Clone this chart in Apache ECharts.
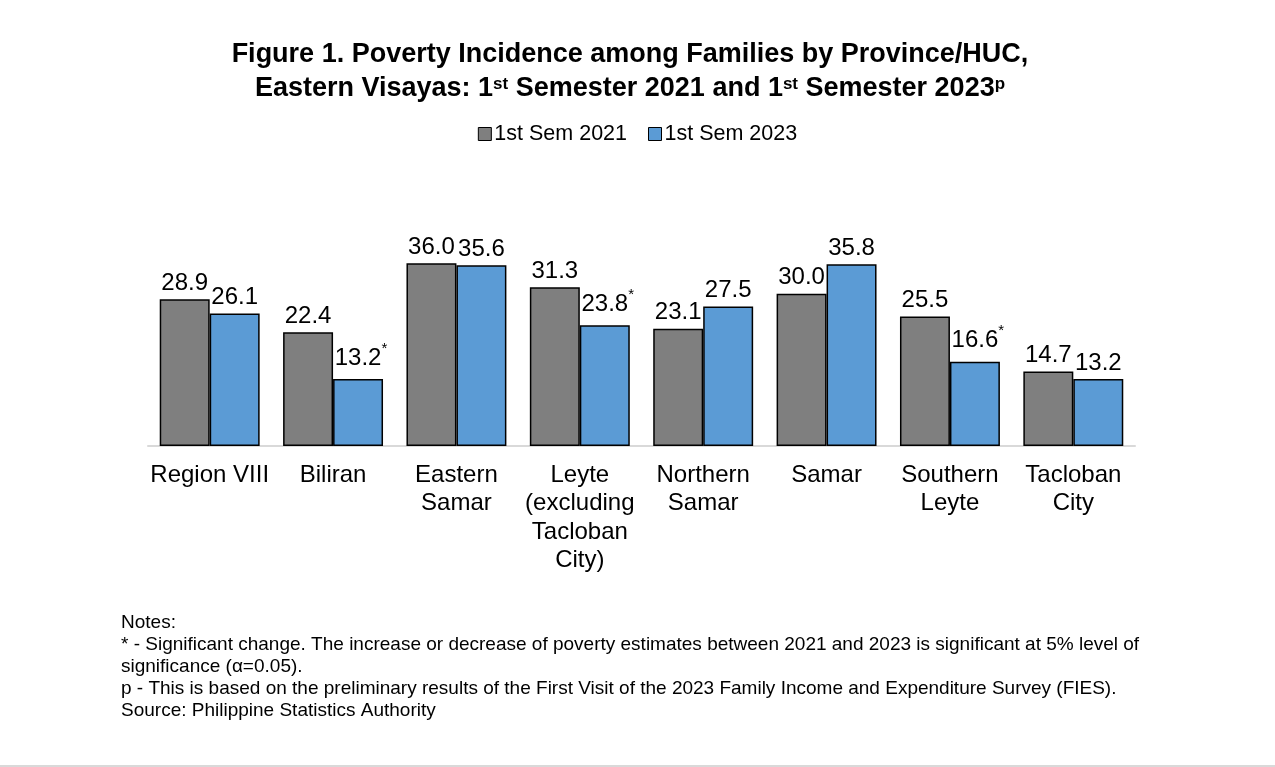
<!DOCTYPE html>
<html>
<head>
<meta charset="utf-8">
<script src="https://cdn.jsdelivr.net/npm/echarts@6/dist/echarts.min.js"></script>
<style>
html,body{margin:0;padding:0;background:#fff;}
#c{width:1275px;height:767px;}
</style>
</head>
<body>
<div id="c"></div>
<script>
const categories = ['Region VIII', 'Biliran', 'Eastern\nSamar', 'Leyte\n(excluding\nTacloban\nCity)', 'Northern\nSamar', 'Samar', 'Southern\nLeyte', 'Tacloban\nCity'];
const seriesNames = ['1st Sem 2021', '1st Sem 2023'];
const sem2021 = [28.9, 22.4, 36.0, 31.3, 23.1, 30.0, 25.5, 14.7];
const sem2023 = [26.1, 13.2, 35.6, 23.8, 27.5, 35.8, 16.6, 13.2];
const sig2023 = [false, true, false, true, false, false, true, false];
const titleText = 'Figure 1. Poverty Incidence among Families by Province/HUC,\nEastern Visayas: 1{sup|st} Semester 2021 and 1{sup|st} Semester 2023{sup|p}';
const notes = [
  'Notes:',
  '* - Significant change. The increase or decrease of poverty estimates between 2021 and 2023 is significant at 5% level of',
  'significance (\u03b1=0.05).',
  'p - This is based on the preliminary results of the First Visit of the 2023 Family Income and Expenditure Survey (FIES).',
  'Source: Philippine Statistics Authority'
];

const FONT = '"Liberation Sans", Arial, sans-serif';
const chart = echarts.init(document.getElementById('c'), null, {renderer: 'canvas'});

function makeData(vals, sig) {
  return vals.map((v, i) => ({value: v, sig: sig ? sig[i] : false}));
}

const labelRich = {
  v: {fontSize: 24, fontFamily: FONT, color: '#000'},
  s: {fontSize: 15, fontFamily: FONT, color: '#000', padding: [0, 0, 19, 0]},
  p: {fontSize: 15, fontFamily: FONT, color: 'rgba(0,0,0,0)', padding: [0, 0, 19, 0]}
};

function fmt(p) {
  const t = p.value.toFixed(1);
  if (p.data.sig) return '{p|*}{v|' + t + '}{s|*}';
  return '{v|' + t + '}';
}

const option = {
  backgroundColor: '#fff',
  animation: false,
  legend: {
    data: seriesNames,
    top: 118,
    left: 'center',
    itemWidth: 13,
    itemHeight: 13,
    itemGap: 21,
    icon: 'rect',
    textStyle: {fontFamily: FONT, fontSize: 21.5, color: '#000', padding: [0, 0, 0, -2]},
    itemStyle: {borderColor: '#000', borderWidth: 1}
  },
  grid: {left: 148, right: 140, top: 243, bottom: 321, containLabel: false},
  xAxis: {
    type: 'category',
    data: categories,
    axisLine: {show: true, lineStyle: {color: '#d9d9d9', width: 2}},
    axisTick: {show: false},
    axisLabel: {
      interval: 0, margin: 15, fontFamily: FONT, fontSize: 24, color: '#000', lineHeight: 28.5
    }
  },
  yAxis: {
    type: 'value', min: 0, max: 40, show: false,
    splitLine: {show: false}
  },
  series: [
    {
      name: seriesNames[0], type: 'bar', data: makeData(sem2021, null),
      barGap: '0%', barCategoryGap: '19%',
      itemStyle: {color: '#7F7F7F', borderColor: '#000', borderWidth: 1.5},
      label: {show: true, position: 'top', distance: 4, formatter: fmt, rich: labelRich}
    },
    {
      name: seriesNames[1], type: 'bar', data: makeData(sem2023, sig2023),
      barGap: '0%', barCategoryGap: '19%',
      itemStyle: {color: '#5B9BD5', borderColor: '#000', borderWidth: 1.5},
      label: {show: true, position: 'top', distance: 4, formatter: fmt, rich: labelRich}
    }
  ],
  graphic: [
    {
      type: 'text', x: 630, y: 38,
      style: {
        text: titleText, align: 'center', verticalAlign: 'top',
        fontFamily: FONT, fontWeight: 'bold', fontSize: 27, lineHeight: 34, fill: '#000',
        rich: {
          sup: {fontFamily: FONT, fontWeight: 'bold', fontSize: 17, fill: '#000', padding: [0, 0, 10, 0], lineHeight: 34}
        }
      }
    },
    {
      type: 'text', left: 121, top: 612,
      style: {text: notes.join('\n'), fontFamily: FONT, fontSize: 19, lineHeight: 22, fill: '#000'}
    },
    {
      type: 'rect', left: 0, top: 765, shape: {width: 1275, height: 2},
      style: {fill: '#d9d9d9'}
    }
  ]
};
chart.setOption(option);
</script>
</body>
</html>
